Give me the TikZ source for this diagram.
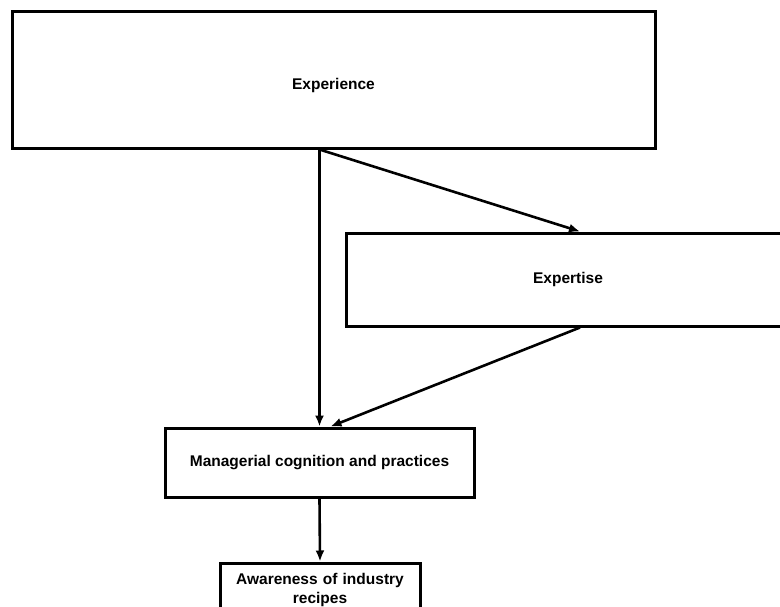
\documentclass[tikz,border=0pt]{standalone}
\usepackage{fontspec}
\setmainfont{Liberation Sans}
\usetikzlibrary{arrows.meta}
\begin{document}
\begin{tikzpicture}[x=1pt,y=-1pt,
  box/.style={draw=black,line width=3pt,fill=white,font=\bfseries\fontsize{15.5}{19}\selectfont,align=center,inner sep=0pt},
  link/.style={line width=2.6pt,-{Latex[length=11pt,width=9pt]}}]
\useasboundingbox (0,0) rectangle (780,606);
\clip (0,0) rectangle (780,606);
\fill[white] (0,0) rectangle (780,606);
% boxes
\node[box,minimum width=643pt,minimum height=137pt] (exp) at (333.5,79.5) {};
\node[font=\bfseries\fontsize{15.5}{19}\selectfont] (expl) at ([yshift=-5.5pt]exp.center) {Experience};
\node[box,minimum width=444pt,minimum height=93pt] (xp) at (568,279.5) {Expertise};
\node[box,minimum width=309pt,minimum height=69pt] (man) at (319.5,462.5) {Managerial cognition and practices};
\node[box,minimum width=200pt,minimum height=54pt,text width=195pt] (aw) at (320,590) {Awareness of industry\\recipes};
% connectors
\coordinate (src) at (exp.south -| man.north);
\draw[link] (src) -- (man.north);
\draw[link] (src) -- ([xshift=12pt]xp.north);
\draw[link] ([xshift=12pt]xp.south) -- ([xshift=11pt]man.north);
\draw[link] (man.south) -- (aw.north);
\end{tikzpicture}
\end{document}
